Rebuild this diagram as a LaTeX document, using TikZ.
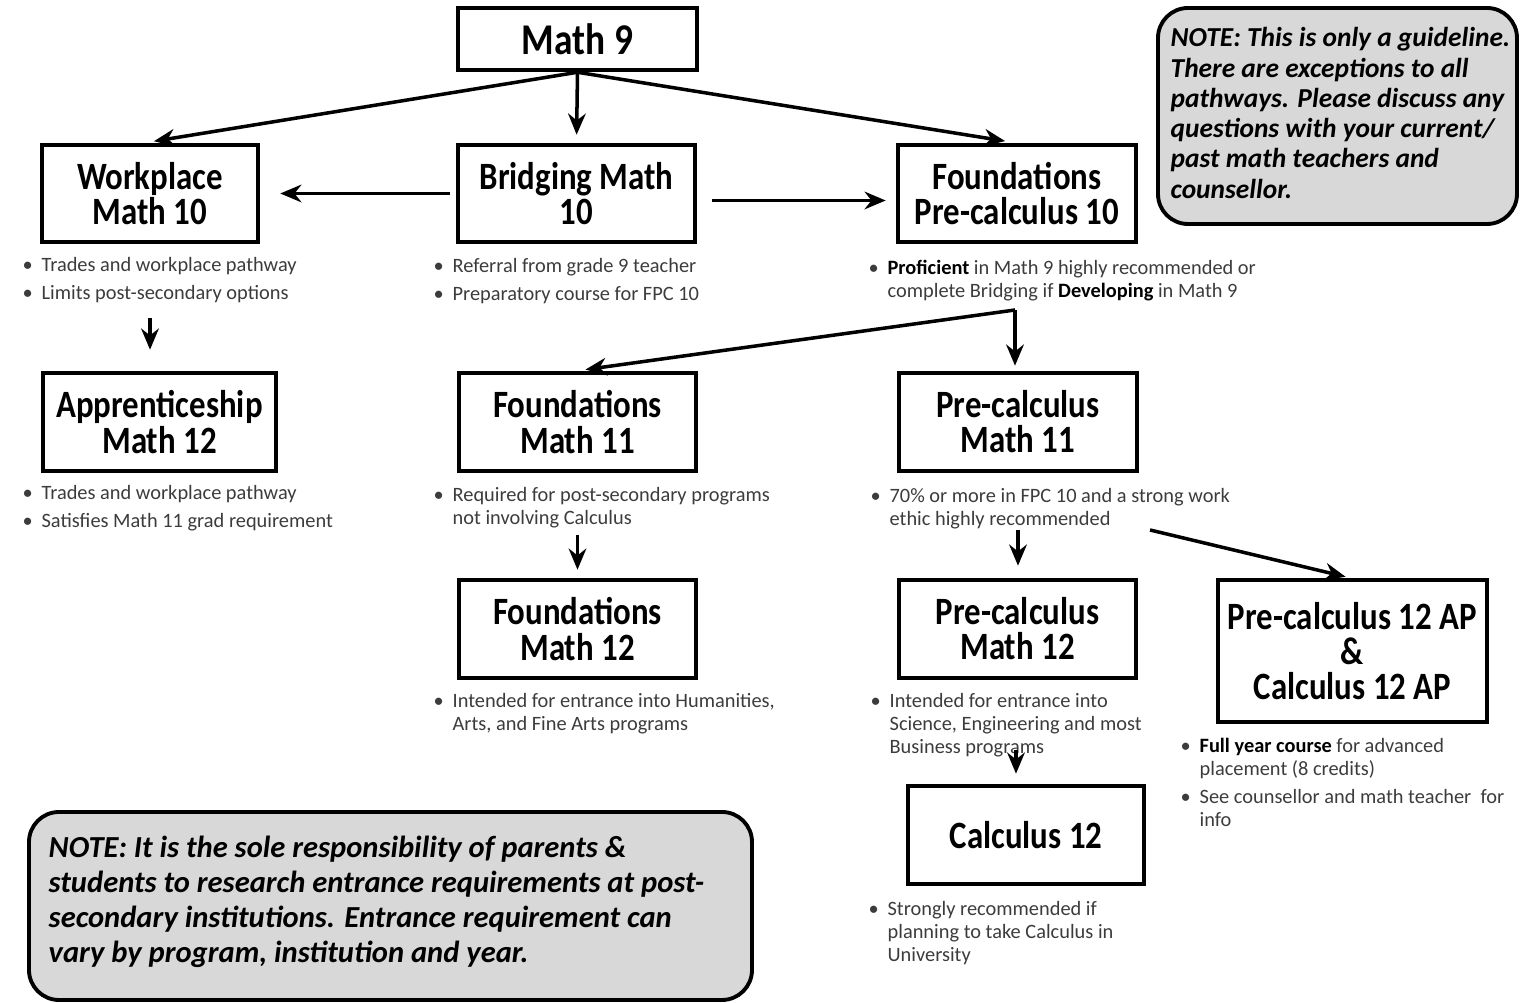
\documentclass[tikz,border=0pt]{standalone}
\usepackage{fontspec}
\setmainfont{Carlito}
\newfontfamily\titlefont[FakeStretch=0.85]{Carlito}
\usetikzlibrary{calc,arrows.meta}
\definecolor{notegray}{RGB}{216,216,216}
\definecolor{textgray}{RGB}{60,60,60}
\newcommand{\keyword}[1]{\textcolor{black}{\bfseries #1}}

\begin{document}
\begin{tikzpicture}[
    course/.style={draw, line width=1.3pt, align=center, inner sep=0pt,
        font=\titlefont\bfseries\fontsize{11}{10}\selectfont},
    notebox/.style={draw, line width=1.1pt, fill=notegray, rounded corners=0.3cm},
    notetext/.style={anchor=north west, align=left, inner sep=0pt},
    info/.style={anchor=north west, inner sep=0pt, text=textgray,
        font=\fontsize{5.8}{6.5}\selectfont},
    arr/.style={-{Stealth[length=6pt,width=5pt]}, line width=1pt}
]
    \useasboundingbox (0,0) rectangle (15.2,-10.03);

    % Notes
    \draw[notebox] (11.58,-0.08) rectangle (15.17,-2.24);
    \node[notetext, font=\bfseries\itshape\fontsize{7.8}{8.6}\selectfont] (noteguide) at (11.70,-0.27) {%
        NOTE: This is only a guideline.\\
        There are exceptions to all\\
        pathways. Please discuss any\\
        questions with your current/\\
        past math teachers and\\
        counsellor.};
    \draw[notebox] (0.29,-8.12) rectangle (7.52,-10.0);
    \node[notetext, font=\bfseries\itshape\fontsize{8.7}{10}\selectfont] (noteduty) at (0.48,-8.35) {%
        NOTE: It is the sole responsibility of parents \&\\
        students to research entrance requirements at post-\\
        secondary institutions. Entrance requirement can\\
        vary by program, institution and year.};

    % Courses
    \node[course, minimum width=2.39cm, minimum height=0.62cm,
        font=\titlefont\bfseries\fontsize{12.5}{12}\selectfont] (math9) at (5.775,-0.39) {Math 9};
    \node[course, minimum width=2.16cm, minimum height=0.97cm] (work10) at (1.50,-1.935) {Workplace\\Math 10};
    \node[course, minimum width=2.37cm, minimum height=0.97cm] (bridge10) at (5.765,-1.935) {Bridging Math\\10};
    \node[course, minimum width=2.38cm, minimum height=0.97cm] (fpc10) at (10.17,-1.935) {Foundations\\Pre-calculus 10};
    \node[course, minimum width=2.33cm, minimum height=0.98cm] (app12) at (1.595,-4.22) {Apprenticeship\\Math 12};
    \node[course, minimum width=2.37cm, minimum height=0.98cm] (found11) at (5.775,-4.22) {Foundations\\Math 11};
    \node[course, minimum width=2.38cm, minimum height=0.98cm] (pc11) at (10.18,-4.22) {Pre-calculus\\Math 11};
    \node[course, minimum width=2.37cm, minimum height=0.98cm] (found12) at (5.775,-6.29) {Foundations\\Math 12};
    \node[course, minimum width=2.37cm, minimum height=0.98cm] (pc12) at (10.175,-6.29) {Pre-calculus\\Math 12};
    \node[course, minimum width=2.69cm, minimum height=1.42cm] (ap12) at (13.525,-6.51) {Pre-calculus 12 AP\\\&\\Calculus 12 AP};
    \node[course, minimum width=2.36cm, minimum height=0.98cm] (calc12) at (10.26,-8.35) {Calculus 12};

    % Remarks under the courses
    \node[info] (work10info) at (0.22,-2.55) {\begin{tabular}{@{}l@{\hspace{2.5pt}}l@{}}
        \textbullet & Trades and workplace pathway\\[1.5pt]
        \textbullet & Limits post-secondary options
    \end{tabular}};
    \node[info] (bridge10info) at (4.33,-2.56) {\begin{tabular}{@{}l@{\hspace{2.5pt}}l@{}}
        \textbullet & Referral from grade 9 teacher\\[1.5pt]
        \textbullet & Preparatory course for FPC 10
    \end{tabular}};
    \node[info] (fpc10info) at (8.68,-2.58) {\begin{tabular}{@{}l@{\hspace{2.5pt}}l@{}}
        \textbullet & \keyword{Proficient} in Math 9 highly recommended or\\
        & complete Bridging if \keyword{Developing} in Math 9
    \end{tabular}};
    \node[info] (app12info) at (0.22,-4.83) {\begin{tabular}{@{}l@{\hspace{2.5pt}}l@{}}
        \textbullet & Trades and workplace pathway\\[1.5pt]
        \textbullet & Satisfies Math 11 grad requirement
    \end{tabular}};
    \node[info] (found11info) at (4.33,-4.85) {\begin{tabular}{@{}l@{\hspace{2.5pt}}l@{}}
        \textbullet & Required for post-secondary programs\\
        & not involving Calculus
    \end{tabular}};
    \node[info] (pc11info) at (8.70,-4.86) {\begin{tabular}{@{}l@{\hspace{2.5pt}}l@{}}
        \textbullet & 70\% or more in FPC 10 and a strong work\\
        & ethic highly recommended
    \end{tabular}};
    \node[info] (found12info) at (4.33,-6.91) {\begin{tabular}{@{}l@{\hspace{2.5pt}}l@{}}
        \textbullet & Intended for entrance into Humanities,\\
        & Arts, and Fine Arts programs
    \end{tabular}};
    \node[info] (pc12info) at (8.70,-6.91) {\begin{tabular}{@{}l@{\hspace{2.5pt}}l@{}}
        \textbullet & Intended for entrance into\\
        & Science, Engineering and most\\
        & Business programs
    \end{tabular}};
    \node[info] (ap12info) at (11.80,-7.36) {\begin{tabular}{@{}l@{\hspace{2.5pt}}l@{}}
        \textbullet & \keyword{Full year course} for advanced\\
        & placement (8 credits)\\[1.5pt]
        \textbullet & See counsellor and math teacher\ \ for\\
        & info
    \end{tabular}};
    \node[info] (calc12info) at (8.68,-8.99) {\begin{tabular}{@{}l@{\hspace{2.5pt}}l@{}}
        \textbullet & Strongly recommended if\\
        & planning to take Calculus in\\
        & University
    \end{tabular}};

    % Arrow tails below the remarks
    \coordinate (work10tail) at (1.50,-3.18);
    \coordinate (fpc10fork) at (10.15,-3.10);
    \coordinate (found11tail) at (5.775,-5.35);
    \coordinate (pc11tail) at (10.18,-5.30);
    \coordinate (pc11side) at (11.50,-5.30);
    \coordinate (pc12tail) at (10.16,-7.50);

    % Pathways
    \draw[arr, shorten >=0.09cm] (math9.south) -- ([xshift=-0.05cm]work10.north);
    \draw[arr, shorten >=0.08cm] (math9.south) -- (bridge10.north);
    \draw[arr, shorten >=0.10cm] (math9.south) -- ([xshift=-0.02cm]fpc10.north);
    \draw[arr, shorten <=0.06cm, shorten >=0.20cm] (bridge10.west) -- (work10.east);
    \draw[arr, shorten <=0.15cm, shorten >=0.10cm] ([yshift=-0.07cm]bridge10.east) -- ([yshift=-0.07cm]fpc10.west);
    \draw[arr, shorten >=0.21cm] (work10tail) -- (app12.north -| work10tail);
    \draw[arr, shorten >=0.05cm] (fpc10fork) -- (pc11.north -| fpc10fork);
    \draw[arr, shorten >=0.08cm] (fpc10fork) -- (found11.north);
    \draw[arr, shorten >=0.08cm] (found11tail) -- (found12.north -| found11tail);
    \draw[arr, shorten >=0.12cm] (pc11tail) -- (pc12.north -| pc11tail);
    \draw[arr, shorten >=0.04cm] (pc11side) -- ([xshift=-0.03cm]ap12.north);
    \draw[arr, shorten >=0.10cm] (pc12tail) -- (calc12.north -| pc12tail);
\end{tikzpicture}
\end{document}
